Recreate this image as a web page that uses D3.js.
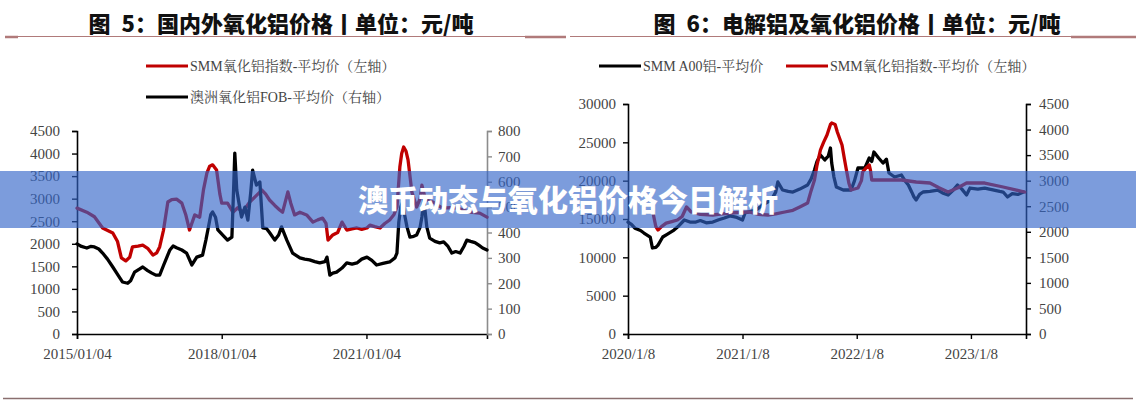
<!DOCTYPE html>
<html><head><meta charset="utf-8">
<script src="https://cdn.jsdelivr.net/npm/d3@7"></script>
<style>
body{margin:0;background:#fff;}
svg{display:block;}
</style></head><body>
<svg id="c" width="1136" height="400"></svg>
<script>
// ---------- DATA ----------
// Figure 5 (left chart)
const titleLeft = "图\u20025：国内外氧化铝价格丨单位：元/吨";
const legendLeft = ["SMM氧化铝指数-平均价（左轴）", "澳洲氧化铝FOB-平均价（右轴）"];
const xTicksLeft = ["2015-01-04", "2018-01-04", "2021-01-04"];
const xTickLabelsLeft = ["2015/01/04", "2018/01/04", "2021/01/04"];
const yTicksLeftL = [0, 500, 1000, 1500, 2000, 2500, 3000, 3500, 4000, 4500];
const yTicksLeftR = [0, 100, 200, 300, 400, 500, 600, 700, 800];

const smmDatesL = ["2015-01-04","2015-03-19","2015-05-16","2015-07-17","2015-10-02","2015-11-07","2015-12-06","2016-01-08","2016-02-07","2016-02-28","2016-04-10","2016-05-16","2016-06-22","2016-08-01","2016-08-30","2016-09-21","2016-10-20","2016-11-22","2016-12-21","2017-01-27","2017-03-08","2017-04-06","2017-05-05","2017-06-14","2017-07-21","2017-08-19","2017-09-14","2017-10-05","2017-10-27","2017-11-26","2017-12-21","2018-01-04","2018-02-17","2018-03-30","2018-05-05","2018-06-11","2018-08-04","2018-09-17","2018-11-04","2018-12-03","2019-01-01","2019-02-10","2019-03-19","2019-04-10","2019-05-20","2019-06-11","2019-07-10","2019-08-19","2019-10-09","2019-11-26","2020-01-01","2020-02-07","2020-03-04","2020-03-19","2020-04-24","2020-05-31","2020-07-03","2020-08-08","2020-09-17","2020-10-24","2020-11-29","2021-01-08","2021-01-30","2021-03-08","2021-04-17","2021-05-23","2021-06-29","2021-08-01","2021-08-23","2021-09-14","2021-09-28","2021-10-13","2021-10-31","2021-11-15","2021-12-14","2022-01-19","2022-02-14","2022-02-28","2022-03-22","2022-04-21","2022-05-23","2022-06-29","2022-08-04","2022-09-28","2022-11-18","2023-01-05","2023-02-25","2023-05-12","2023-07-06"];
const smmValuesL = [2790,2700,2600,2350,2240,2050,1685,1620,1700,1930,1950,1970,1900,1750,1800,1930,2300,2926,2980,2990,2900,2650,2305,2640,2590,3200,3570,3720,3750,3635,3100,2900,2900,2700,2800,2700,2926,3050,3190,3100,2970,2850,2750,2700,3150,2900,2640,2700,2640,2480,2530,2570,2450,2080,2195,2250,2480,2305,2330,2350,2320,2350,2415,2380,2350,2450,2527,2650,2815,3700,4000,4145,4050,3860,3150,2815,3000,3300,3040,2950,2926,2850,2790,2800,2790,2750,2700,2680,2590];

const fobDatesL = ["2015-01-04","2015-02-07","2015-03-19","2015-04-17","2015-05-16","2015-06-18","2015-07-17","2015-08-23","2015-10-02","2015-11-07","2015-12-14","2016-01-23","2016-02-14","2016-03-15","2016-04-17","2016-05-16","2016-06-22","2016-07-24","2016-08-23","2016-09-21","2016-10-20","2016-11-15","2016-12-06","2017-01-01","2017-01-27","2017-03-08","2017-04-13","2017-05-23","2017-06-29","2017-08-12","2017-09-06","2017-09-21","2017-10-13","2017-10-27","2017-11-18","2017-12-06","2018-01-12","2018-02-17","2018-03-22","2018-04-06","2018-04-13","2018-04-28","2018-05-20","2018-06-03","2018-06-29","2018-07-21","2018-08-12","2018-08-26","2018-09-24","2018-10-20","2018-11-11","2018-12-10","2019-01-01","2019-02-10","2019-03-11","2019-04-02","2019-05-12","2019-06-25","2019-08-19","2019-09-24","2019-10-31","2019-12-10","2020-01-16","2020-02-25","2020-03-11","2020-04-02","2020-04-24","2020-05-23","2020-07-03","2020-08-08","2020-09-17","2020-10-24","2020-11-29","2021-01-08","2021-02-14","2021-03-22","2021-05-09","2021-06-29","2021-08-08","2021-08-23","2021-09-06","2021-09-21","2021-10-05","2021-10-20","2021-11-07","2021-11-29","2021-12-28","2022-01-19","2022-02-14","2022-02-28","2022-03-15","2022-04-06","2022-04-28","2022-06-07","2022-07-13","2022-08-12","2022-09-14","2022-10-13","2022-11-11","2022-12-14","2023-01-12","2023-02-03","2023-03-04","2023-04-06","2023-05-05","2023-06-03","2023-07-06"];
const fobValuesL = [355,345,339,345,343,335,319,295,264,235,205,200,210,244,255,264,250,240,232,232,270,303,330,347,340,331,319,272,303,311,370,410,470,481,460,410,390,370,382,600,713,567,500,461,500,449,560,646,587,599,418,415,400,370,390,422,370,319,300,295,292,285,280,285,303,232,240,244,260,280,275,280,295,303,290,272,278,284,300,319,441,500,520,470,422,382,385,390,420,461,528,422,378,365,359,363,345,319,325,319,345,370,365,360,350,339,331];

// Figure 6 (right chart)
const titleRight = "图\u20026：电解铝及氧化铝价格丨单位：元/吨";
const legendRight = ["SMM A00铝-平均价", "SMM氧化铝指数-平均价（左轴）"];
const xTicksRight = ["2020-01-08", "2021-01-08", "2022-01-08", "2023-01-08"];
const xTickLabelsRight = ["2020/1/8", "2021/1/8", "2022/1/8", "2023/1/8"];
const yTicksRightL = [0, 5000, 10000, 15000, 20000, 25000, 30000];
const yTicksRightR = [0, 500, 1000, 1500, 2000, 2500, 3000, 3500, 4000, 4500];

const a00DatesR = ["2020-01-08","2020-01-19","2020-01-30","2020-02-17","2020-02-28","2020-03-19","2020-03-26","2020-04-06","2020-04-13","2020-04-28","2020-05-12","2020-06-03","2020-06-18","2020-07-06","2020-07-24","2020-08-12","2020-08-26","2020-09-14","2020-10-05","2020-10-24","2020-11-11","2020-11-29","2020-12-21","2021-01-08","2021-01-16","2021-02-03","2021-02-21","2021-03-15","2021-04-10","2021-04-24","2021-05-01","2021-05-16","2021-06-03","2021-06-18","2021-07-10","2021-08-04","2021-08-15","2021-08-26","2021-09-03","2021-09-14","2021-09-28","2021-10-09","2021-10-16","2021-10-20","2021-10-27","2021-11-04","2021-11-26","2021-12-21","2022-01-01","2022-01-12","2022-02-03","2022-02-17","2022-02-25","2022-03-04","2022-03-19","2022-04-02","2022-04-13","2022-04-21","2022-05-09","2022-05-31","2022-06-11","2022-06-22","2022-07-03","2022-07-10","2022-07-17","2022-07-28","2022-08-08","2022-08-30","2022-09-24","2022-10-09","2022-10-27","2022-11-11","2022-11-26","2022-12-10","2022-12-25","2023-01-05","2023-01-30","2023-02-21","2023-03-19","2023-04-10","2023-04-21","2023-05-05","2023-05-20","2023-06-07","2023-06-25"];
const a00ValuesR = [14600,14300,13800,13500,13170,12650,11220,11300,11600,12650,13000,13560,14100,14870,14600,14600,14800,14500,14600,14900,15130,15400,15200,14870,15780,16000,16170,16900,17480,18500,19830,18780,18600,18520,18900,19430,20200,21390,22500,23350,22700,23200,24260,22300,20500,19170,18780,18780,20000,21650,21650,22960,22500,23740,22960,22300,22800,21000,20480,20740,20000,19430,18500,17870,17480,18200,18520,18600,18780,18400,18130,18700,19430,18900,18130,19040,18900,19040,18800,18600,18520,17870,18300,18200,18520];

const smmDatesR = ["2020-03-26","2020-04-06","2020-04-13","2020-04-24","2020-05-09","2020-05-27","2020-06-14","2020-06-29","2020-07-13","2020-07-28","2020-08-26","2020-10-05","2020-11-04","2020-12-03","2021-01-01","2021-01-30","2021-02-28","2021-03-30","2021-04-24","2021-05-23","2021-06-18","2021-07-10","2021-08-04","2021-08-15","2021-08-26","2021-09-03","2021-09-14","2021-09-24","2021-10-05","2021-10-16","2021-10-20","2021-10-31","2021-11-07","2021-11-22","2021-11-29","2021-12-06","2021-12-14","2021-12-21","2022-01-12","2022-01-23","2022-01-27","2022-02-07","2022-02-17","2022-02-21","2022-02-25","2022-04-02","2022-05-31","2022-07-17","2022-08-30","2022-09-28","2022-10-27","2022-11-26","2022-12-25","2023-02-21","2023-04-21","2023-06-29"];
const smmValuesR = [2426,2100,2035,2100,2170,2200,2230,2300,2485,2387,2340,2328,2350,2367,2380,2387,2340,2328,2350,2387,2420,2485,2563,2800,3013,3300,3600,3750,3893,4100,4128,4100,3952,3698,3450,3209,2950,2817,2856,3000,3170,3250,3307,3200,3013,3013,3013,2974,2954,2860,2778,2856,2954,2954,2876,2778];

const bannerText = "澳币动态与氧化铝价格今日解析";

// ---------- DRAW ----------
const parse = d3.timeParse("%Y-%m-%d");
const svg = d3.select("#c");
const RED = "#c00000", BLACK = "#000";
const serif = "'Liberation Serif','Times New Roman','Noto Serif CJK SC','Noto Sans CJK SC',serif";
const cjk = "'Noto Sans CJK SC','Noto Sans',sans-serif";

function header(cx, title, lineX0, lineX1, thickL, thickR) {
  svg.append("text").attr("x", cx).attr("y", 32).attr("text-anchor", "middle")
    .attr("font-family", cjk).attr("font-weight", 900).attr("font-size", 22)
    .attr("fill", "#111").text(title);
  svg.append("line").attr("x1", lineX0).attr("x2", lineX1).attr("y1", 36.5).attr("y2", 36.5)
    .attr("stroke", "#b07a7a").attr("stroke-width", 1.2);
  if (thickL) svg.append("line").attr("x1", thickL[0]).attr("x2", thickL[1]).attr("y1", 37).attr("y2", 37)
    .attr("stroke", "#b07a7a").attr("stroke-width", 2.5);
  if (thickR) svg.append("line").attr("x1", thickR[0]).attr("x2", thickR[1]).attr("y1", 37).attr("y2", 37)
    .attr("stroke", "#b07a7a").attr("stroke-width", 2.5);
}

function legendItem(x, y, color, label) {
  svg.append("line").attr("x1", x).attr("x2", x + 42).attr("y1", y).attr("y2", y)
    .attr("stroke", color).attr("stroke-width", 3.2);
  svg.append("text").attr("x", x + 44).attr("y", y).attr("dy", "0.36em")
    .attr("font-family", serif).attr("font-size", 14).attr("fill", "#444").text(label);
}

function styleAxis(g, color, textColor) {
  g.select(".domain").attr("stroke", color).attr("stroke-width", 1.6);
  g.selectAll(".tick line").attr("stroke", color).attr("stroke-width", 1.4);
  g.selectAll(".tick text").attr("fill", textColor).attr("font-family", serif).attr("font-size", 15);
}

function chart(cfg) {
  const x = d3.scaleTime().domain([parse(cfg.xStart), parse(cfg.xEnd)]).range([cfg.x0, cfg.x1]);
  const yL = d3.scaleLinear().domain([0, cfg.yLmax]).range([cfg.yBottom, cfg.yTop]);
  const yR = d3.scaleLinear().domain([0, cfg.yRmax]).range([cfg.yBottom, cfg.yTop]);

  const gx = svg.append("g").attr("transform", `translate(0,${cfg.yBottom})`)
    .call(d3.axisBottom(x).tickValues(cfg.xTicks.map(parse))
      .tickFormat((d, i) => cfg.xLabels[i]).tickSizeOuter(0).tickSize(5).tickPadding(9));
  styleAxis(gx, "#000", "#444");

  const gl = svg.append("g").attr("transform", `translate(${cfg.x0},0)`)
    .call(d3.axisLeft(yL).tickValues(cfg.yLTicks).tickFormat(d3.format("d"))
      .tickSizeOuter(0).tickSize(5).tickPadding(cfg.padL));
  styleAxis(gl, "#000", "#444");

  const gr = svg.append("g").attr("transform", `translate(${cfg.x1},0)`)
    .call(d3.axisRight(yR).tickValues(cfg.yRTicks).tickFormat(d3.format("d"))
      .tickSizeOuter(0).tickSize(5).tickPadding(cfg.padR));
  styleAxis(gr, cfg.rightAxisColor, "#444");

  cfg.series.forEach(s => {
    const y = s.axis === "L" ? yL : yR;
    const pts = s.dates.map((d, i) => [parse(d), s.values[i]]);
    svg.append("path").datum(pts)
      .attr("fill", "none").attr("stroke", s.color).attr("stroke-width", 3.3)
      .attr("stroke-linejoin", "round").attr("stroke-linecap", "round")
      .attr("d", d3.line().x(p => x(p[0])).y(p => y(p[1])));
  });
}

// Left chart
header(281, titleLeft, 5, 566, [5, 18], [525, 566]);
legendItem(146, 66, RED, legendLeft[0]);
legendItem(146, 97, BLACK, legendLeft[1]);
chart({
  xStart: "2015-01-04", xEnd: "2023-07-06", x0: 77, x1: 487,
  yTop: 131, yBottom: 334, yLmax: 4500, yRmax: 800,
  xTicks: xTicksLeft, xLabels: xTickLabelsLeft,
  yLTicks: yTicksLeftL, yRTicks: yTicksLeftR, padL: 12, padR: 6,
  rightAxisColor: "#8c8c8c",
  series: [
    {dates: smmDatesL, values: smmValuesL, axis: "L", color: RED},
    {dates: fobDatesL, values: fobValuesL, axis: "R", color: BLACK}
  ]
});

// Right chart
header(857, titleRight, 570, 1136, null, [1071, 1136]);
legendItem(599, 66, BLACK, legendRight[0]);
legendItem(786, 66, RED, legendRight[1]);
chart({
  xStart: "2020-01-08", xEnd: "2023-07-03", x0: 628, x1: 1026,
  yTop: 104, yBottom: 334, yLmax: 30000, yRmax: 4500,
  xTicks: xTicksRight, xLabels: xTickLabelsRight,
  yLTicks: yTicksRightL, yRTicks: yTicksRightR, padL: 7, padR: 8,
  rightAxisColor: "#000",
  series: [
    {dates: a00DatesR, values: a00ValuesR, axis: "L", color: BLACK},
    {dates: smmDatesR, values: smmValuesR, axis: "R", color: RED}
  ]
});

// bottom rule
svg.append("line").attr("x1", 3).attr("x2", 1133).attr("y1", 398.5).attr("y2", 398.5)
  .attr("stroke", "#8a6f6f").attr("stroke-width", 1.5);

// overlay banner
svg.append("rect").attr("x", 0).attr("y", 171).attr("width", 1136).attr("height", 57)
  .attr("fill", "rgb(50,100,200)").attr("fill-opacity", 0.64);
svg.append("text").attr("x", 568).attr("y", 200).attr("dy", "0.36em").attr("text-anchor", "middle")
  .attr("font-family", cjk).attr("font-weight", 900).attr("font-size", 30)
  .attr("fill", "#fff").attr("stroke", "rgba(0,0,0,0.08)").attr("stroke-width", 0.5)
  .text(bannerText);
</script></body></html>
